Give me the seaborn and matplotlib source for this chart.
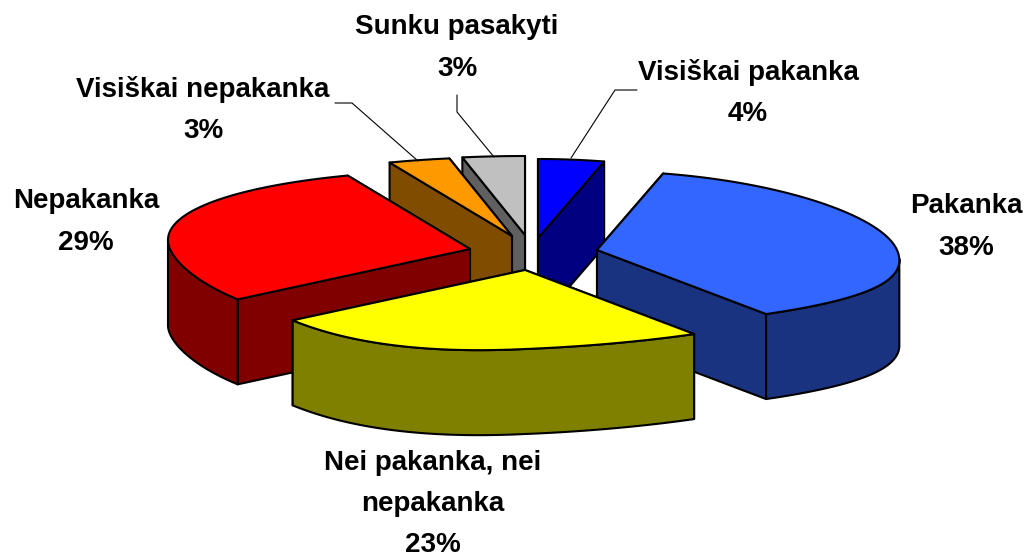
import numpy as np
import pandas as pd
import matplotlib
matplotlib.use("Agg")
import matplotlib.pyplot as plt
import seaborn as sns

# Chart data, clockwise from 12 o'clock
labels = ["Visiškai pakanka", "Pakanka", "Nei pakanka, nei\nnepakanka",
          "Nepakanka", "Visiškai nepakanka", "Sunku pasakyti"]
shares = [4, 38, 23, 29, 3, 3]
top_colors = ["#0000FF", "#3366FF", "#FFFF00", "#FF0000", "#FF9900", "#C0C0C0"]

# Layout in pixels, same order as labels
explode_x = [13, 72, 0, -55, -13, 0]
explode_y = [-12, 0, 20, -1, -14, -15]
label_x = [748, 966, 433, 86, 203, 457]
label_y = [93, 227, 504, 222, 110, 48]
# leader lines: label side, elbow, slice side
leaders = {0: [(637, 90), (615, 90), (571, 158)],
           4: [(335, 103), (352, 103), (418, 161)],
           5: [(457, 95), (457, 112), (494, 157)]}

# far slices are painted first
draw_order = [0, 5, 4, 1, 3, 2]

CENTER = (525, 250)
RX, RY = 300, 79
SKEW = 35
PERSP = 0.08
TWIST = 14
DEPTH = 85
EDGE = dict(edgecolor="black", linewidth=1.5, joinstyle="round")

sns.set_theme(style="white")
plt.rcParams["font.family"] = ["Liberation Sans", "DejaVu Sans"]

df = pd.DataFrame({"label": labels, "share": shares})
df["end"] = df["share"].cumsum() / df["share"].sum() * 2 * np.pi
df["start"] = df["end"].shift(fill_value=0.0)
palette = sns.color_palette(top_colors)


def rim(theta, tip):
    # point on the tilted pie rim, theta runs clockwise from the top
    X, Y = np.sin(theta), np.cos(theta)
    near = np.clip(-Y, 0, 1) ** 2
    x = (RX * X - SKEW * np.abs(X) * Y) * (1 + PERSP * near)
    y = -RY * Y - TWIST * X * near
    return tip[0] + x, tip[1] + y


fig, ax = plt.subplots(figsize=(10.26, 5.57), dpi=100)
fig.subplots_adjust(0, 0, 1, 1)
ax.set_xlim(0, 1026)
ax.set_ylim(557, 0)
ax.axis("off")

# silhouette of the skewed rim, the wall runs between these angles
wall_lo = np.pi / 2 + SKEW / RX
wall_hi = 3 * np.pi / 2 + SKEW / RX

for i in draw_order:
    row = df.iloc[i]
    tip = (CENTER[0] + explode_x[i], CENTER[1] + explode_y[i])
    top = palette[i]
    side = tuple(c * 0.5 for c in top)

    # radial faces, farther one first
    edges = sorted([row["start"], row["end"]], key=lambda t: -np.cos(t))
    for t in edges:
        x, y = rim(t, tip)
        ax.fill([tip[0], x, x, tip[0]], [tip[1], y, y + DEPTH, tip[1] + DEPTH],
                facecolor=side, **EDGE)

    # outer wall, only the part facing the viewer
    lo, hi = max(row["start"], wall_lo), min(row["end"], wall_hi)
    if hi > lo:
        x, y = rim(np.linspace(lo, hi, 80), tip)
        ax.fill(np.r_[x, x[::-1]], np.r_[y, y[::-1] + DEPTH],
                facecolor=side, **EDGE)

    # top surface
    x, y = rim(np.linspace(row["start"], row["end"], 120), tip)
    ax.fill(np.r_[tip[0], x], np.r_[tip[1], y], facecolor=top, **EDGE)

for i, pts in leaders.items():
    ax.plot(*zip(*pts), color="black", lw=0.8, solid_joinstyle="miter")

for i, row in df.iterrows():
    ax.text(label_x[i], label_y[i], f"{row['label']}\n{row['share']}%",
            ha="center", va="center", fontsize=20, fontweight="bold",
            color="black", linespacing=1.77)

fig.savefig("out.png", dpi=100)
